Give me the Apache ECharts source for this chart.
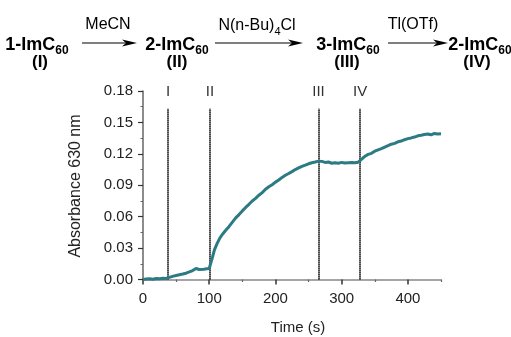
<!DOCTYPE html>
<html>
<head>
<meta charset="utf-8">
<script src="https://cdn.jsdelivr.net/npm/echarts@6/dist/echarts.min.js"></script>
<style>
  html, body { margin: 0; padding: 0; background: #fff; }
  #chart { width: 511px; height: 337px; }
</style>
</head>
<body>
<div id="chart"></div>
<script>
// absorbance trace
var times = [0, 5, 10, 15, 20, 25, 30, 35, 38, 42, 46, 50, 55, 60, 65, 70, 75, 80, 85, 88, 92, 96, 100,
  102, 105, 108, 112, 116, 120, 125, 130, 135, 140, 145, 150, 155, 160, 165, 170, 175, 180, 185, 190,
  195, 200, 205, 210, 215, 220, 225, 230, 235, 240, 245, 250, 255, 260, 265, 270, 275, 280, 285, 290,
  295, 300, 305, 310, 315, 320, 325, 328, 332, 336, 340, 345, 350, 355, 360, 365, 370, 375, 380, 385,
  390, 395, 400, 405, 410, 415, 420, 425, 430, 435, 440, 445, 450];
var absorb = [0.0000, 0.0005, 0.0008, 0.0003, 0.0010, 0.0007, 0.0012, 0.0010, 0.0012, 0.0025, 0.0032,
  0.0038, 0.0045, 0.0052, 0.0060, 0.0072, 0.0085, 0.0105, 0.0095, 0.0108, 0.0098, 0.0102, 0.0105,
  0.0150, 0.0215, 0.0285, 0.0345, 0.0395, 0.0432, 0.0470, 0.0507, 0.0548, 0.0588, 0.0620, 0.0655,
  0.0688, 0.0718, 0.0750, 0.0775, 0.0805, 0.0830, 0.0862, 0.0885, 0.0905, 0.0930, 0.0950, 0.0975,
  0.0995, 0.1012, 0.1030, 0.1050, 0.1065, 0.1080, 0.1092, 0.1105, 0.1115, 0.1122, 0.1130, 0.1128,
  0.1118, 0.1122, 0.1110, 0.1115, 0.1110, 0.1118, 0.1112, 0.1115, 0.1118, 0.1115, 0.1120, 0.1125,
  0.1160, 0.1180, 0.1195, 0.1205, 0.1225, 0.1238, 0.1250, 0.1265, 0.1278, 0.1292, 0.1300, 0.1315,
  0.1322, 0.1335, 0.1345, 0.1352, 0.1360, 0.1372, 0.1378, 0.1385, 0.1390, 0.1382, 0.1395, 0.1390, 0.1392];

// event markers (s) and their labels
var eventTimes = [38, 101, 265, 328];
var eventNames = ['I', 'II', 'III', 'IV'];
var eventTop = 0.163;

var xMajor = [0, 100, 200, 300, 400];
var xMinor = [50, 150, 250, 350, 450];

var font = '"Liberation Sans", Arial, Helvetica, sans-serif';
var teal = '#2c7a84';

var chart = echarts.init(document.getElementById('chart'), null, {renderer: 'canvas'});

var markData = eventTimes.map(function (t, i) {
  return [
    {coord: [t, 0]},
    {coord: [t, eventTop], label: {formatter: eventNames[i]}}
  ];
});

function arrow(x1, x2, y) {
  return [
    {type: 'line', shape: {x1: x1, y1: y, x2: x2 - 8, y2: y}, style: {stroke: '#000', lineWidth: 1.2}},
    {type: 'polygon', shape: {points: [[x2, y], [x2 - 15, y - 3.5], [x2 - 11, y], [x2 - 15, y + 3.5]]},
      style: {fill: '#000'}}
  ];
}

var compoundRich = {
  b: {fontFamily: font, fontWeight: 'bold', fontSize: 18, lineHeight: 18, verticalAlign: 'top', fill: '#000'},
  s: {fontFamily: font, fontWeight: 'bold', fontSize: 12, lineHeight: 12, padding: [9, 0, 0, 0], verticalAlign: 'top', fill: '#000'}
};

function compound(name, sub, tag, cx, tagx) {
  return [
    {type: 'text', x: cx, y: 45, style: {text: '{b|' + name + '}{s|' + sub + '}', rich: compoundRich,
      align: 'center', verticalAlign: 'middle'}},
    {type: 'text', x: tagx, y: 62, style: {text: tag, fontFamily: font, fontWeight: 'bold', fontSize: 17,
      fill: '#000', align: 'center', verticalAlign: 'middle'}}
  ];
}

var graphics = []
  .concat(compound('1-ImC', '60', '(I)', 37, 40))
  .concat(compound('2-ImC', '60', '(II)', 177, 177))
  .concat(compound('3-ImC', '60', '(III)', 348, 347))
  .concat(compound('2-ImC', '60', '(IV)', 480, 477))
  .concat(arrow(82, 137, 43))
  .concat(arrow(215, 303, 43))
  .concat(arrow(388, 448, 43))
  .concat([
    {type: 'text', x: 108, y: 25, style: {text: 'MeCN', fontFamily: font, fontSize: 16, fill: '#000',
      align: 'center', verticalAlign: 'middle'}},
    {type: 'text', x: 257, y: 26, style: {text: '{n|N(n-Bu)}{s|4}{n|Cl}', align: 'center', verticalAlign: 'middle',
      rich: {
        n: {fontFamily: font, fontSize: 16, lineHeight: 16, verticalAlign: 'top', fill: '#000'},
        s: {fontFamily: font, fontSize: 11, lineHeight: 11, padding: [8, 0, 0, 0], verticalAlign: 'top', fill: '#000'}
      }}},
    {type: 'text', x: 413, y: 25, style: {text: 'Tl(OTf)', fontFamily: font, fontSize: 16, fill: '#000',
      align: 'center', verticalAlign: 'middle'}},
    {type: 'text', x: 298, y: 328, style: {text: 'Time (s)', fontFamily: font, fontSize: 15, fill: '#222',
      align: 'center', verticalAlign: 'middle'}},
    {type: 'text', x: 76, y: 186, rotation: Math.PI / 2, style: {text: 'Absorbance 630 nm', fontFamily: font,
      fontSize: 16, fill: '#222', align: 'center', verticalAlign: 'middle'}}
  ]);

var option = {
  animation: false,
  backgroundColor: '#fff',
  grid: {left: 143, right: 70, top: 91, bottom: 57.5},
  xAxis: [
    {
      type: 'value', min: 0, max: 450,
      axisLine: {lineStyle: {color: '#888', width: 1.5}},
      axisTick: {length: 5, lineStyle: {color: '#333', width: 1.5}, customValues: xMajor},
      axisLabel: {customValues: xMajor, fontSize: 15, color: '#222', margin: 12, fontFamily: font},
      splitLine: {show: false}
    },
    {
      type: 'value', min: 0, max: 450, position: 'bottom',
      axisLine: {show: false},
      axisTick: {length: 2.5, lineStyle: {color: '#666', width: 1.2}, customValues: xMinor},
      axisLabel: {show: false},
      splitLine: {show: false}
    }
  ],
  yAxis: {
    type: 'value', min: 0, max: 0.18, interval: 0.03,
    axisLine: {show: true, lineStyle: {color: '#666', width: 1.5}},
    axisTick: {show: true, length: 5, lineStyle: {color: '#333', width: 1.2}},
    minorTick: {show: true, splitNumber: 2, length: 2.5, lineStyle: {color: '#666', width: 1}},
    axisLabel: {fontSize: 15, color: '#222', margin: 10, fontFamily: font,
      formatter: function (v) { return v.toFixed(2); }},
    splitLine: {show: false}
  },
  series: [{
    type: 'line',
    data: times.map(function (t, i) { return [t, absorb[i]]; }),
    showSymbol: false,
    lineStyle: {color: teal, width: 3},
    z: 3,
    markLine: {
      silent: true,
      symbol: 'none',
      lineStyle: {color: '#111', width: 2, type: [1.2, 0.8]},
      label: {position: 'end', distance: 9, fontSize: 15, color: '#333', fontFamily: font},
      data: markData,
      z: 2
    }
  }],
  graphic: graphics
};

chart.setOption(option);
</script>
</body>
</html>
